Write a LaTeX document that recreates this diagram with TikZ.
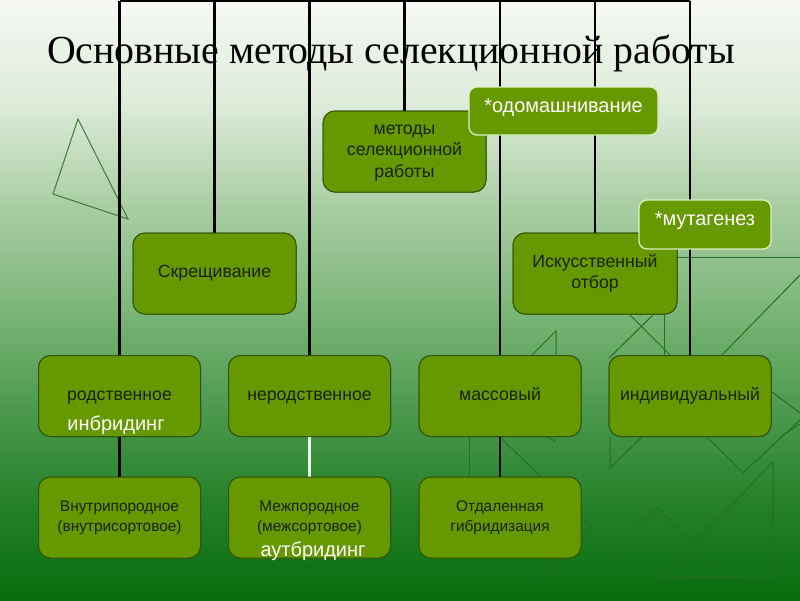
\documentclass[tikz,border=0pt]{standalone}
\usepackage{fontspec}
\setmainfont{Liberation Sans}
\newfontfamily\titlefont{Liberation Serif}
\definecolor{boxfill}{RGB}{102,153,0}
\definecolor{boxline}{RGB}{50,85,10}
\definecolor{boxtext}{RGB}{25,35,10}
\definecolor{starline}{RGB}{215,240,190}
\definecolor{decoA}{RGB}{60,125,60}
\definecolor{deco}{RGB}{35,112,35}
\definecolor{g0}{RGB}{246,248,244}
\definecolor{g1}{RGB}{222,236,218}
\definecolor{g2}{RGB}{172,207,166}
\definecolor{g3}{RGB}{128,184,124}
\definecolor{g4}{RGB}{80,156,82}
\definecolor{g5}{RGB}{38,130,42}
\definecolor{g6}{RGB}{8,108,12}
\tikzset{
  box/.style={draw=boxline, line width=1pt, fill=boxfill, rounded corners=12pt,
    minimum width=162pt, minimum height=81pt, text=boxtext, align=center,
    inner sep=0pt, font=\fontsize{17.7}{21.5}\selectfont},
  sbox/.style={box, font=\fontsize{15.4}{19.5}\selectfont},
  starbox/.style={draw=starline, line width=1.3pt, fill=boxfill, rounded corners=8pt, inner sep=0pt},
  startext/.style={text=white, font=\fontsize{19.9}{22}\selectfont, inner sep=0pt},
  whitetext/.style={text=white, font=\fontsize{20}{22}\selectfont, inner sep=0pt},
  conn/.style={draw=black, line width=2.2pt},
  wconn/.style={draw=white!92!green, line width=2.6pt},
  decoline/.style={draw=deco, line width=1pt},
}
\begin{document}
\begin{tikzpicture}[x=1pt,y=-1pt]
\useasboundingbox (0,0) rectangle (800,600);
% background
\fill[top color=g0,bottom color=g1] (0,-0.5) rectangle (800,100.5);
\fill[top color=g1,bottom color=g2] (0,100) rectangle (800,200.5);
\fill[top color=g2,bottom color=g3] (0,200) rectangle (800,300.5);
\fill[top color=g3,bottom color=g4] (0,300) rectangle (800,400.5);
\fill[top color=g4,bottom color=g5] (0,400) rectangle (800,500.5);
\fill[top color=g5,bottom color=g6] (0,500) rectangle (800,600.5);
% decorations
\draw[draw=decoA, line width=1pt] (78,119) -- (53,194) -- (128,219) -- cycle;
\draw[decoline] (677,257) -- (800,257);
\draw[decoline] (800,275) -- (722,355);
\draw[decoline] (630,315) -- (670,355);
\draw[decoline] (653,315) -- (609,358);
\draw[decoline] (664,315) -- (664,355);
\draw[decoline] (532,355) -- (556,331) -- (556,355);
\draw[decoline] (540,432) -- (556,442);
\draw[decoline] (500,437) -- (592,527) -- (541,578);
\draw[decoline] (469,437) -- (469,477);
\draw[decoline] (610,437) -- (610,468) -- (642,437);
\draw[decoline] (705,435) -- (743,473) -- (800,420);
\draw[decoline] (772,392) -- (800,413);
\draw[decoline] (800,424) -- (780,437);
\draw[decoline] (773,462) -- (773,578) -- (662,577) -- cycle;
\draw[decoline] (603,563) -- (658,508) -- (713,567);
% title
\node[anchor=base, inner sep=0pt, font=\titlefont\fontsize{39.8}{40}\selectfont] (title) at (391,63) {Основные методы селекционной работы};
% boxes (placed first as nodes, drawn later)
\coordinate (bL) at (120,1);
\coordinate (bR) at (690,1);
\path
  (404.5,151.5) node[box, minimum width=163pt] (met) {}
  (214.5,273.5) node[box, minimum width=163pt] (skr) {}
  (595,273.5)   node[box, minimum width=164pt] (isk) {}
  (119.5,396)   node[box] (rod) {}
  (309.5,396)   node[box] (nerod) {}
  (500,396)     node[box] (mass) {}
  (690,396)     node[box] (ind) {}
  (119.5,517.5) node[sbox] (vnu) {}
  (309.5,517.5) node[sbox] (mezh) {}
  (500,517.5)   node[sbox] (otd) {};
% connectors
\draw[conn] (bL) -- (bR);
\foreach \n in {rod,skr,nerod,met,mass,isk,ind} {
  \draw[conn] (\n.north |- bL) -- (\n.north);
}
\draw[conn] (rod.south) -- (vnu.north);
\draw[conn] (mass.south) -- (otd.north);
\draw[wconn] (nerod.south) -- (mezh.north);
% boxes drawn on top
\node[box, minimum width=163pt] at (met) {\strut методы\\селекционной\\работы\strut};
\node[box, minimum width=163pt] at (skr) {\strut Скрещивание\strut};
\node[box, minimum width=164pt] at (isk) {\strut Искусственный\\отбор\strut};
\node[box] at (rod) {\strut родственное\strut};
\node[box] at (nerod) {\strut неродственное\strut};
\node[box] at (mass) {\strut массовый\strut};
\node[box] at (ind) {\strut индивидуальный\strut};
\node[sbox] at (vnu) {\strut Внутрипородное\\(внутрисортовое)\strut};
\node[sbox] at (mezh) {\strut Межпородное\\(межсортовое)\strut};
\node[sbox] at (otd) {\strut Отдаленная\\гибридизация\strut};
\node[starbox, minimum width=189pt, minimum height=48pt] (dom) at (563.5,111) {};
\node[startext] (domt) at (563.5,108) {\strut*одомашнивание\strut};
\node[starbox, minimum width=132pt, minimum height=49pt] (mut) at (705,224.5) {};
\node[startext] (mutt) at (705,221) {\strut*мутагенез\strut};
\node[whitetext] (inb) at (116,426) {\strut инбридинг\strut};
\node[whitetext] (aut) at (313,552) {\strut аутбридинг\strut};
\end{tikzpicture}
\end{document}
